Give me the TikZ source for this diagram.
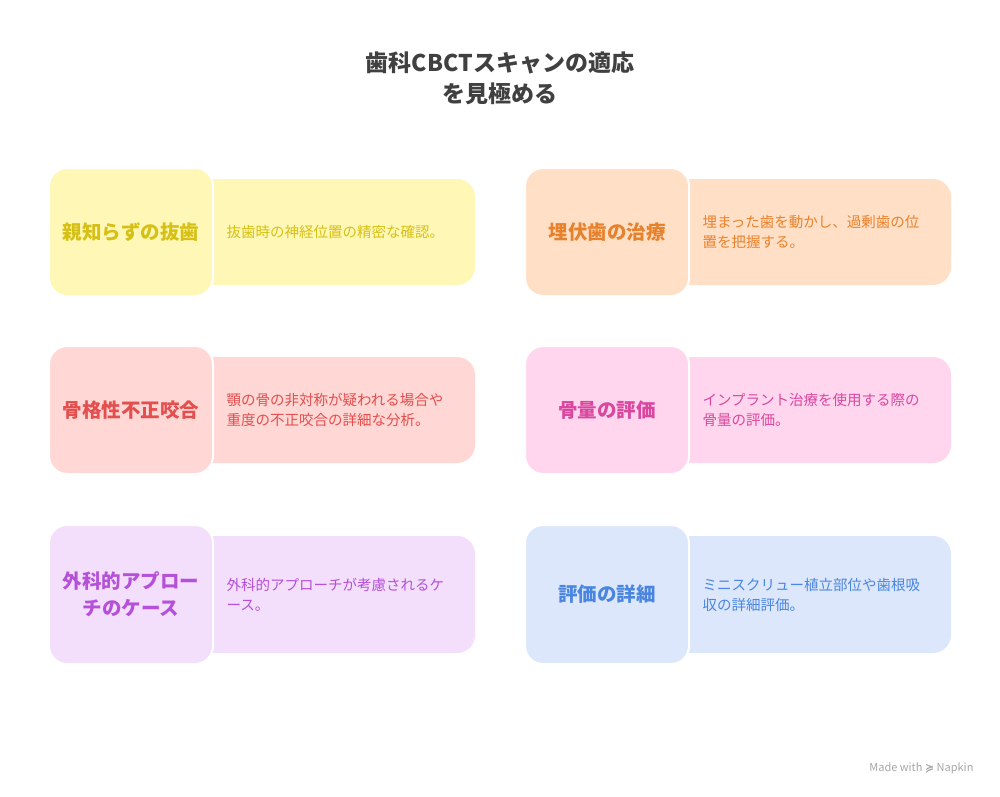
\documentclass[tikz,border=0pt]{standalone}
\usepackage{fontspec}
\setmainfont{Noto Sans CJK JP}
\newfontfamily\symf{DejaVu Sans}
\begin{document}
\begin{tikzpicture}[x=1pt,y=-1pt,
  big/.style={draw=white,line width=2pt,rounded corners=18pt,inner sep=0pt},
  det/.style={align=left,anchor=west,font=\fontsize{14.5}{20}\selectfont},
  ttl/.style={align=center,font=\fontsize{19.5}{27}\selectfont\bfseries}]
\useasboundingbox (0,0) rectangle (1000,796);
\definecolor{yF}{HTML}{FFF7B5}\definecolor{yT}{HTML}{D6C016}
\definecolor{oF}{HTML}{FFE0C6}\definecolor{oT}{HTML}{E8812C}
\definecolor{rF}{HTML}{FFD7D4}\definecolor{rT}{HTML}{E34E4E}
\definecolor{pF}{HTML}{FFD6EE}\definecolor{pT}{HTML}{D9479F}
\definecolor{vF}{HTML}{F3DEFC}\definecolor{vT}{HTML}{B550D8}
\definecolor{bF}{HTML}{DCE7FC}\definecolor{bT}{HTML}{4A86E0}
\node[ttl,text=black!75,font=\fontsize{23}{31}\selectfont\bfseries] (title) at (500,78) {歯科CBCTスキャンの適応\\を見極める};
\newcommand{\card}[9]{%
  \fill[#6,rounded corners=18pt] (#1+150,#3) -- (#2,#3) -- (#2,#4) -- (#1+150,#4) -- cycle;
  \fill[#6] (#1+150,#3) rectangle (#1+190,#4);
  \draw[big,fill=#6] (#1,#3-11) rectangle (#1+164,#4+11);
  \node[ttl,text=#7] (#9t) at (#1+82,{(#3+#4)/2}) {#5};
  \node[det,text=#7] (#9d) at (#1+174,{(#3+#4)/2}) {#8};}
\card{49}{475}{179}{285}{親知らずの抜歯}{yF}{yT}{抜歯時の神経位置の精密な確認。}{a}
\card{525}{951}{179}{285}{埋伏歯の治療}{oF}{oT}{埋まった歯を動かし、過剰歯の位\\置を把握する。}{b}
\card{49}{475}{357}{463}{骨格性不正咬合}{rF}{rT}{顎の骨の非対称が疑われる場合や\\重度の不正咬合の詳細な分析。}{c}
\card{525}{951}{357}{463}{骨量の評価}{pF}{pT}{インプラント治療を使用する際の\\骨量の評価。}{d}
\card{49}{475}{536}{653}{外科的アプロー\\チのケース}{vF}{vT}{外科的アプローチが考慮されるケ\\ース。}{e}
\card{525}{951}{536}{653}{評価の詳細}{bF}{bT}{ミニスクリュー植立部位や歯根吸\\収の詳細評価。}{f}
\node[text=black!35,font=\fontsize{11}{13}\selectfont,anchor=east] (nap) at (977,768) {Made with {\symf\bfseries ≽} Napkin};
\end{tikzpicture}
\end{document}
